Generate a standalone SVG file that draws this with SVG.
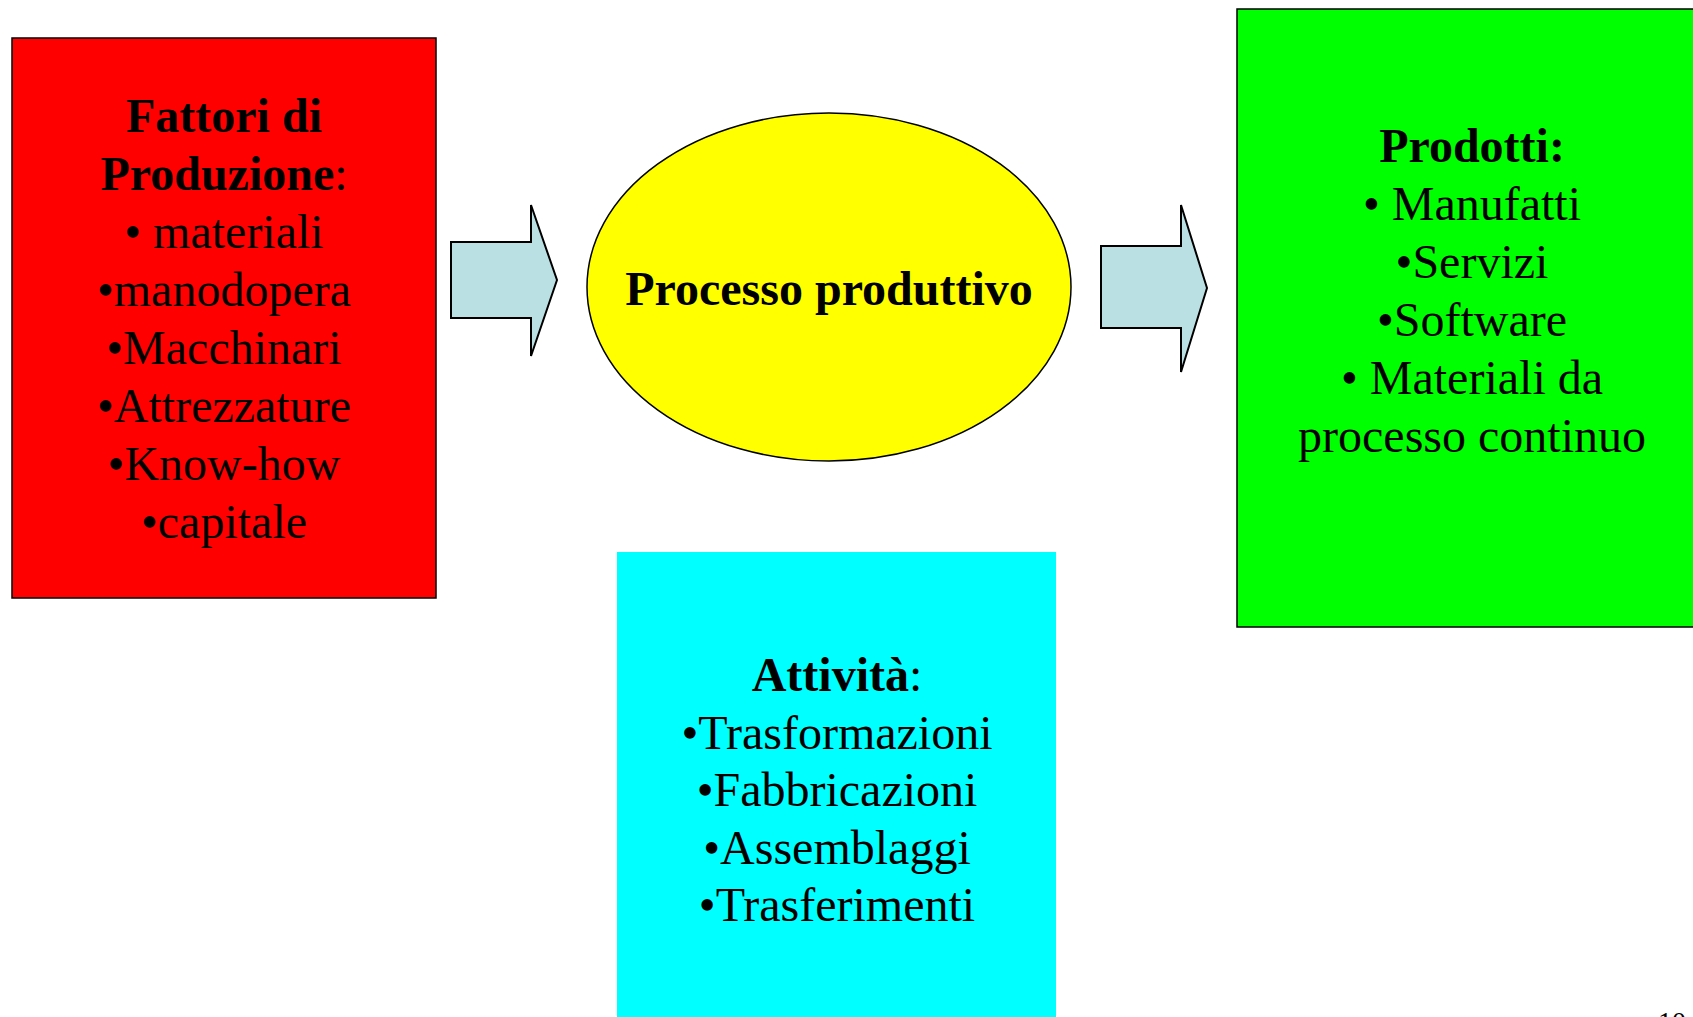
<svg xmlns="http://www.w3.org/2000/svg" width="1693" height="1017" viewBox="0 0 1693 1017">
<style>
.t{font-family:"Liberation Serif","Times New Roman",serif;font-size:48px;fill:#000;text-anchor:middle}
.b{font-weight:bold}
.box{stroke:#000;stroke-width:1.5}
.arrow{fill:#BBE0E3;stroke:#000;stroke-width:2;stroke-linejoin:miter}
</style>
<rect width="1693" height="1017" fill="#fff"/>
<g id="fattori">
<rect class="box" x="12" y="38" width="424" height="560" fill="#FF0000"/>
<text class="t"><tspan x="224" y="132" class="b">Fattori di</tspan><tspan x="224" y="190"><tspan class="b">Produzione</tspan>:</tspan><tspan x="224" y="248">• materiali</tspan><tspan x="224" y="306">•manodopera</tspan><tspan x="224" y="364">•Macchinari</tspan><tspan x="224" y="422">•Attrezzature</tspan><tspan x="224" y="480">•Know-how</tspan><tspan x="224" y="538">•capitale</tspan></text>
</g>
<g id="processo">
<ellipse class="box" cx="829" cy="287" rx="242" ry="174" fill="#FFFF00"/>
<text class="t b" x="829" y="305">Processo produttivo</text>
</g>
<g id="prodotti">
<rect class="box" x="1237" y="9" width="480" height="618" fill="#00FF00"/>
<text class="t"><tspan x="1472" y="162" class="b">Prodotti:</tspan><tspan x="1472" y="220">• Manufatti</tspan><tspan x="1472" y="278">•Servizi</tspan><tspan x="1472" y="336">•Software</tspan><tspan x="1472" y="394">• Materiali da</tspan><tspan x="1472" y="452">processo continuo</tspan></text>
</g>
<g id="attivita">
<rect x="617" y="552" width="439" height="480" fill="#00FFFF"/>
<text class="t"><tspan x="837" y="691"><tspan class="b">Attività</tspan>:</tspan><tspan x="837" y="748.5">•Trasformazioni</tspan><tspan x="837" y="806">•Fabbricazioni</tspan><tspan x="837" y="863.5">•Assemblaggi</tspan><tspan x="837" y="921">•Trasferimenti</tspan></text>
</g>
<g id="connectors">
<path class="arrow" d="M451 242 H531 V205 L557 280 L531 356 V318 H451 Z"/>
<path class="arrow" d="M1101 246 H1181 V205 L1207 288 L1181 372 V328 H1101 Z"/>
</g>
<text x="1686" y="1031" font-family="Liberation Serif,serif" font-size="28" text-anchor="end">10</text>
</svg>
